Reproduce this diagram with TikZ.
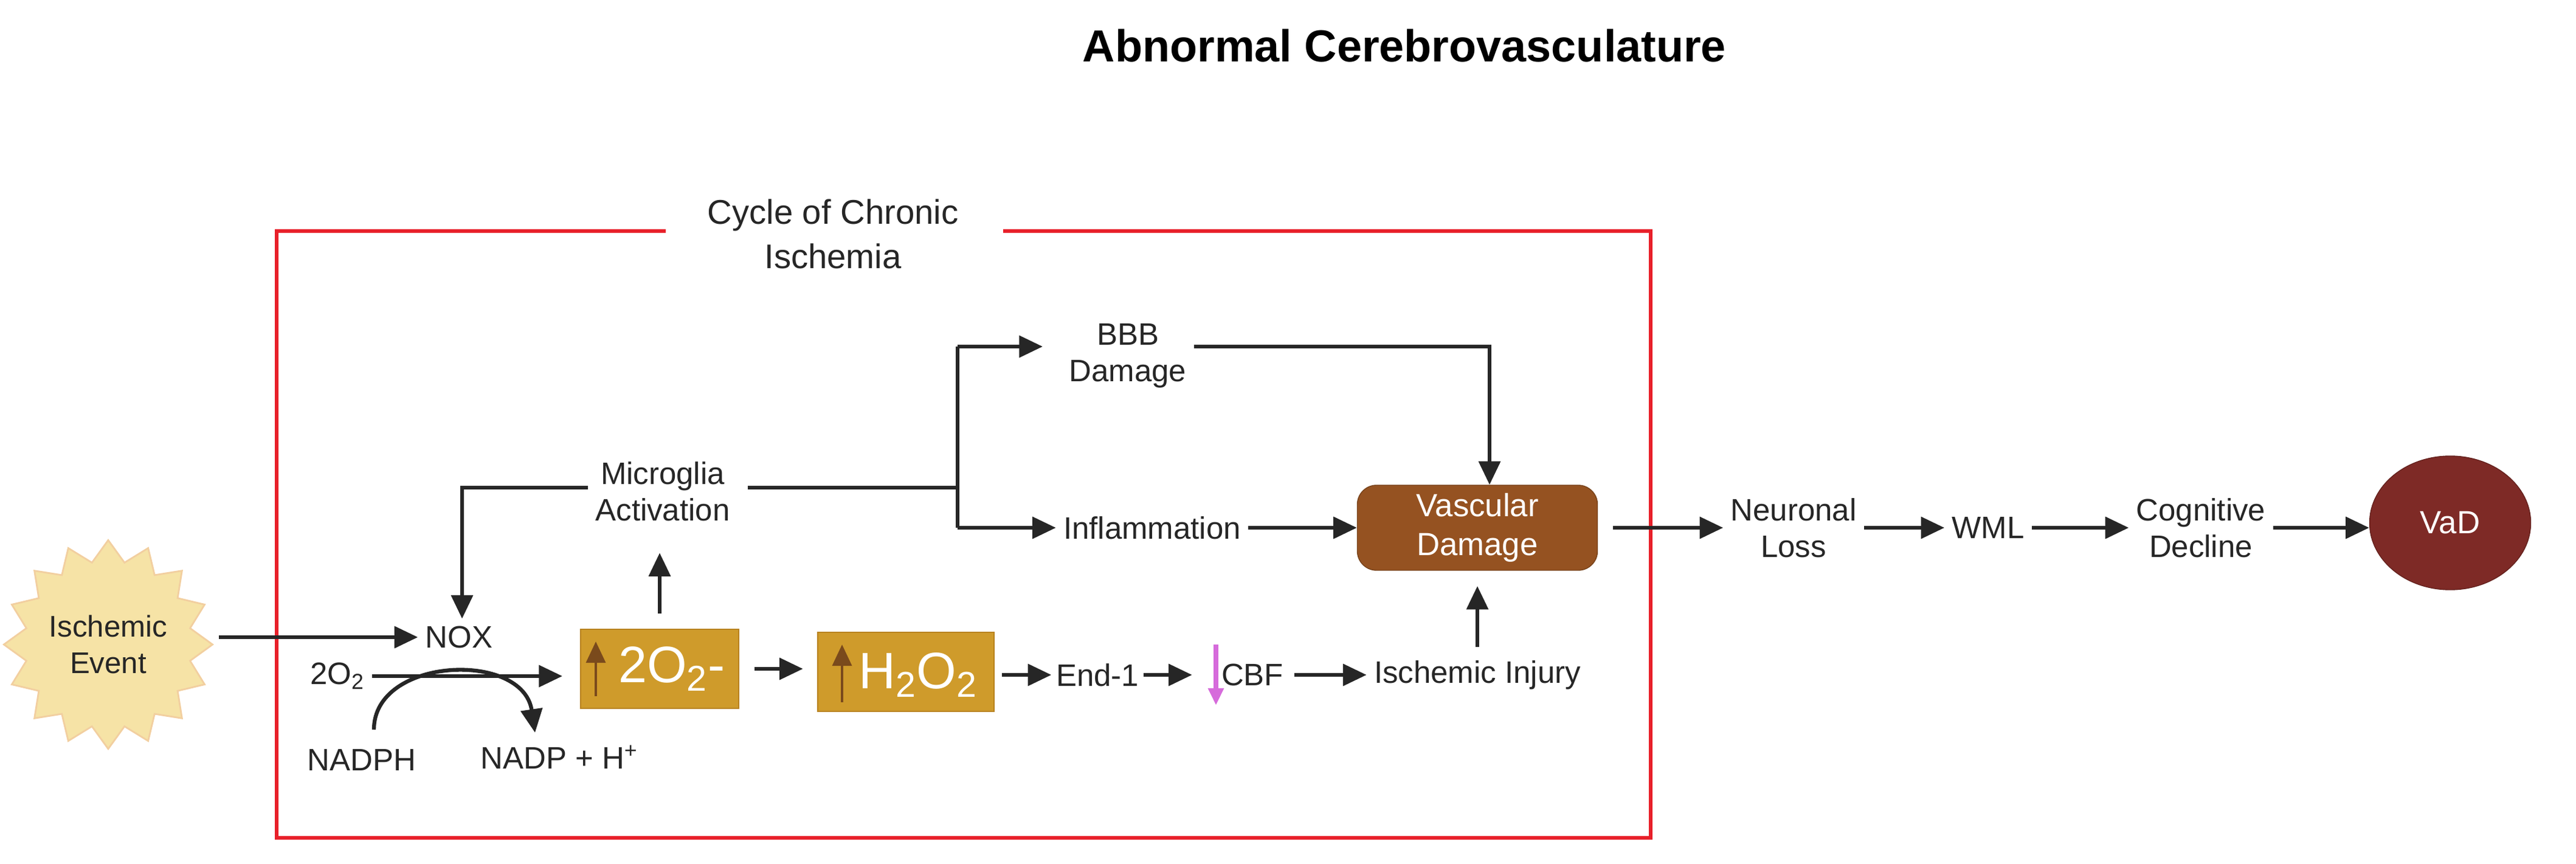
\documentclass[tikz,border=0pt]{standalone}
\usepackage{fontspec}
\setmainfont{Liberation Sans}
\usetikzlibrary{shapes.geometric,arrows.meta}
\definecolor{starf}{HTML}{F6E3A6}
\definecolor{stard}{HTML}{F2CFA0}
\definecolor{gold}{HTML}{CF9B2B}
\definecolor{goldd}{HTML}{B8821E}
\definecolor{brown}{HTML}{955221}
\definecolor{vad}{HTML}{7E2A26}
\definecolor{redb}{HTML}{E8202A}
\definecolor{arr}{HTML}{7A4A1C}
\definecolor{pink}{HTML}{D66BDB}
\begin{document}
\begin{tikzpicture}[x=1cm,y=-1cm,
  txt/.style={font=\fontsize{14.5}{17}\selectfont, align=center, text=black!85},
  ar/.style={-{Triangle[length=11pt,width=10pt]}, line width=1.8pt, black!85},
  ln/.style={line width=1.8pt, black!85}]
\useasboundingbox (0,0) rectangle (42.37,14.21);
\node[font=\fontsize{21}{25}\selectfont\bfseries] (title) at (23.1,0.75) {Abnormal Cerebrovasculature};
% red frame
\draw[redb, line width=1.5pt] (16.5,3.8) -- (27.15,3.8) -- (27.15,13.78) -- (4.55,13.78) -- (4.55,3.8) -- (10.95,3.8);
\node[txt, font=\fontsize{16}{21}\selectfont] (cyc) at (13.7,3.85) {Cycle of Chronic\\Ischemia};
% starburst
\node[star, star points=16, star point ratio=1.25, minimum size=3.25cm, fill=starf, draw=stard, line width=0.8pt, txt, font=\fontsize{14}{17}\selectfont, inner sep=0pt] (ev) at (1.78,10.6) {Ischemic\\Event};
\node[txt] (nox) at (7.55,10.48) {NOX};
\node[txt] (o2) at (5.55,11.12) {2O\textsubscript{2}};
\node[txt] (nadph) at (5.95,12.5) {NADPH};
\node[txt] (nadp) at (9.2,12.45) {NADP + H\textsuperscript{+}};
\draw[ar] (nox.west -| 3.6,0) -- (nox.west);
\coordinate (o2e) at (9.25,11.12);
\draw[ar] (o2.east) -- (o2e);
\coordinate (nA) at (6.15,12.0);
\coordinate (nB) at (8.8,12.05);
\draw[ar] (nA) .. controls (6.15,10.8) and (8.6,10.7) .. (nB);
% boxes
\node[fill=gold, draw=goldd, minimum width=2.6cm, minimum height=1.3cm, inner sep=0pt] (sup) at (10.85,11.0) {};
\node[text=white, font=\fontsize{24}{28}\selectfont] (supt) at (11.05,11.0) {2O\textsubscript{2}-};
\draw[arr, line width=1.4pt, -{Triangle[length=10pt,width=9pt]}] (9.8,11.45) -- (9.8,10.55);
\node[fill=gold, draw=goldd, minimum width=2.9cm, minimum height=1.3cm, inner sep=0pt] (hp) at (14.9,11.05) {};
\node[text=white, font=\fontsize{24}{28}\selectfont] (hpt) at (15.1,11.1) {H\textsubscript{2}O\textsubscript{2}};
\draw[arr, line width=1.4pt, -{Triangle[length=10pt,width=9pt]}] (13.85,11.55) -- (13.85,10.6);
\draw[ar] (sup.east) ++(0.25,0) -- ++(0.8,0) coordinate (hpin);
% right chain
\node[txt, inner sep=2pt] (end) at (18.05,11.1) {End-1};
\node[txt, inner sep=2pt] (cbf) at (20.6,11.1) {CBF};
\draw[pink, line width=2.2pt, -{Triangle[length=8pt,width=7pt]}] (20.0,10.6) -- (20.0,11.6);
\node[txt] (isc) at (24.3,11.1) {Ischemic Injury};
\draw[ar] (end.west -| hp.east) ++(0.12,0) -- (end.west);
\draw[ar] (end.east) -- ++(0.8,0) coordinate (c1);
\draw[ar] (cbf.east) ++(0.1,0) -- (isc.west);
\node[fill=brown, draw=brown!80!black, rounded corners=9pt, minimum width=3.95cm, minimum height=1.4cm, text=white, font=\fontsize{15}{18}\selectfont, align=center] (vd) at (24.3,8.68) {Vascular\\Damage};
\draw[ar] (isc.north -| vd) ++(0,-0.1) -- ++(0,-1.0) coordinate (vdb);
\node[txt] (mic) at (10.9,8.08) {Microglia\\Activation};
\draw[ar] (sup.north) ++(0,-0.25) -- ++(0,-1.0) coordinate (mb);
\coordinate (mj) at (12.3,8.02);
\draw[ar] (mic.west |- mj) -- (7.6,8.02) -- (nox.north -| 7.6,0);
\node[txt] (bbb) at (18.55,5.85) {BBB\\Damage};
\node[txt] (inf) at (18.95,8.68) {Inflammation};
\draw[ln] (mj) -- (15.75,8.02) coordinate (br);
\draw[ar] (15.75,5.7) -- (17.15,5.7) coordinate (bin);
\draw[ln] (15.75,5.7) -- (15.75,8.68);
\draw[ar] (15.75,8.68) -- (inf.west);
\draw[ar] (inf.east) -- (vd.west);
\coordinate (bj) at (24.5,5.7);
\draw[ar] (bj -| bbb.east) -- (bj) -- (vd.north -| bj);
% outside chain
\node[txt] (nl) at (29.5,8.68) {Neuronal\\Loss};
\node[txt] (wml) at (32.7,8.68) {WML};
\node[txt] (cd) at (36.2,8.68) {Cognitive\\Decline};
\node[ellipse, fill=vad, draw=vad!80!black, minimum width=2.65cm, minimum height=2.2cm, text=white, font=\fontsize{15}{18}\selectfont] (vad) at (40.3,8.6) {VaD};
\draw[ar] (vd.east) ++(0.25,0) -- (nl.west);
\draw[ar] (nl.east) -- (wml.west);
\draw[ar] (wml.east) -- (cd.west);
\draw[ar] (cd.east) -- (vad.west |- cd.east);
\end{tikzpicture}
\end{document}
